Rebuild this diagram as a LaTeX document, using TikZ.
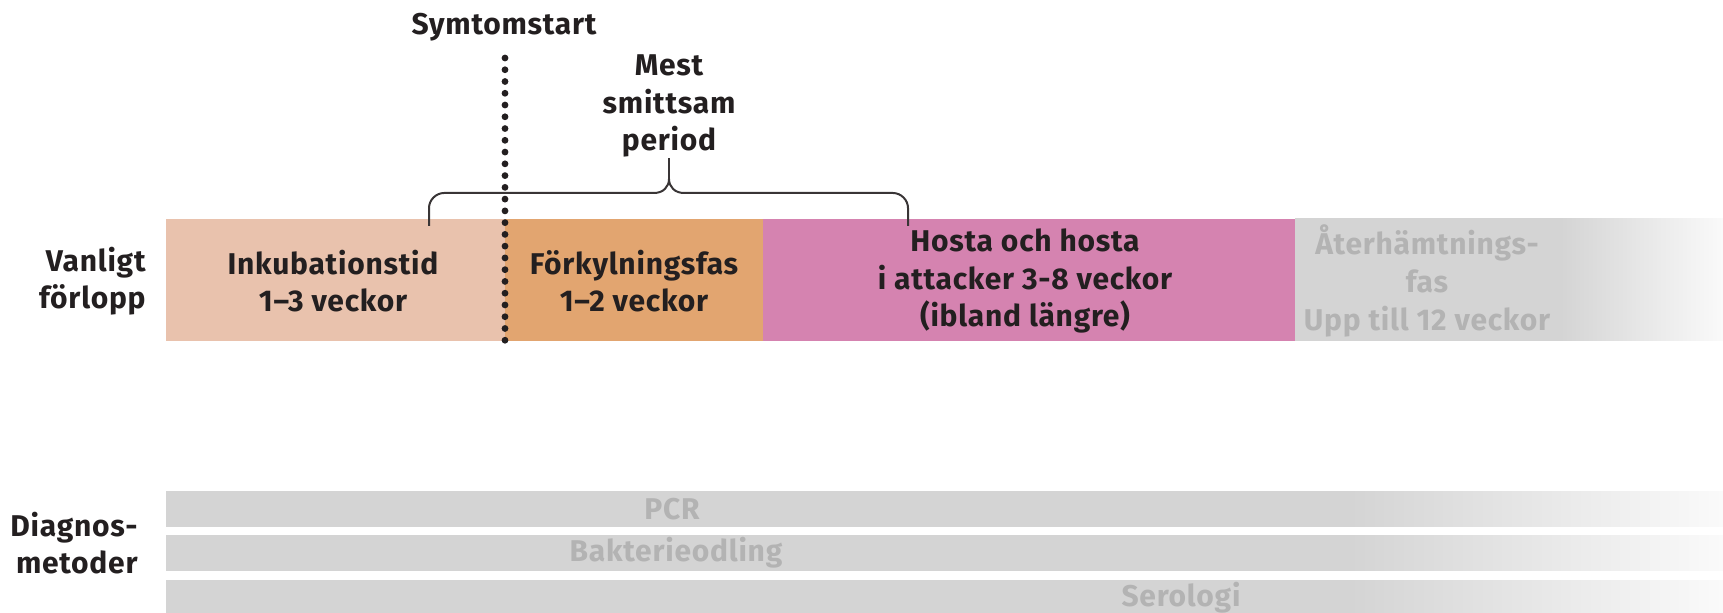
\documentclass[tikz,border=0pt]{standalone}
\usepackage{fontspec}
\setmainfont{Fira Sans}[LetterSpace=2.5]

\definecolor{inkub}{HTML}{E9C2AD}
\definecolor{forky}{HTML}{E2A570}
\definecolor{hosta}{HTML}{D583B0}
\definecolor{barg}{HTML}{D4D4D4}
\definecolor{fadeend}{HTML}{FAFAFA}
\definecolor{txtg}{HTML}{B3B3B3}
\definecolor{txtd}{HTML}{231F20}

\pgfdeclarehorizontalshading{fadetop}{100bp}{color(0bp)=(barg); color(56bp)=(barg); color(75bp)=(fadeend); color(100bp)=(fadeend)}
\pgfdeclarehorizontalshading{fadediag}{100bp}{color(0bp)=(barg); color(63bp)=(barg); color(75bp)=(fadeend); color(100bp)=(fadeend)}

\begin{document}
\begin{tikzpicture}[x=0.5pt, y=-0.5pt,
    lbl/.style={font=\fontsize{15}{18.8}\selectfont\bfseries, text=txtd, align=center, inner sep=0pt},
    glbl/.style={lbl, text=txtg},
    brc/.style={draw=txtd!90, line width=1pt},
    dots/.style={draw=txtd, line width=3.4pt, line cap=round, dash pattern=on 0pt off 5.88pt}]

    \useasboundingbox (0,0) rectangle (1723,613);

    \coordinate (s1) at (505,58);
    \coordinate (s2) at (505,352);
    \coordinate (bl) at (429,226);
    \coordinate (br) at (908,226);
    \coordinate (tip) at (669,179);

    % vanligt forlopp
    \fill[inkub] (166,219) rectangle (505,341);
    \fill[forky] (505,219) rectangle (763,341);
    \fill[hosta] (763,219) rectangle (1295,341);
    \shade[shading=fadetop] (1295,219) rectangle (1723,341);

    \node[lbl] (inkubtxt) at (333,281) {Inkubationstid\\1–3 veckor};
    \node[lbl] (forkytxt) at (634,281) {Förkylningsfas\\1–2 veckor};
    \node[lbl] (hostatxt) at (1025,281) {Hosta och hosta\\i attacker 3-8 veckor\\(ibland längre)};
    \node[glbl] (aterhtxt) at (1427,281) {Återhämtnings-\\fas\\Upp till 12 veckor};

    \node[lbl, align=right, anchor=east] (vanligt) at (146,281) {Vanligt\\förlopp};

    % diagnosmetoder
    \foreach \y/\n/\tx/\t in {492/pcr/672/PCR, 536/bakt/676/Bakterieodling, 581/sero/1181/Serologi} {
      \shade[shading=fadediag] (166,\y) rectangle (1723,\y+35);
      \node[glbl] (\n) at (\tx,\y+17) {\t};
    }

    \node[lbl, align=right, anchor=east] (diagnos) at (138,543) {Diagnos-\\metoder};

    % symtomstart och smittsam period
    \node[lbl] (symt) at (504,27) {Symtomstart};
    \node[lbl] (smitt) at (669,106) {Mest\\smittsam\\period};

    \draw[dots] (s1) -- (s2);

    \draw[brc] (bl) -- (429,208) .. controls (429,200) and (436,193) .. (444,193) -- (654,193)
      .. controls (663,193) and (669,187) .. (tip)
      .. controls (669,187) and (675,193) .. (684,193) -- (893,193)
      .. controls (901,193) and (908,200) .. (908,208) -- (br);
    \draw[brc] (tip) -- (smitt.south);

\end{tikzpicture}
\end{document}
